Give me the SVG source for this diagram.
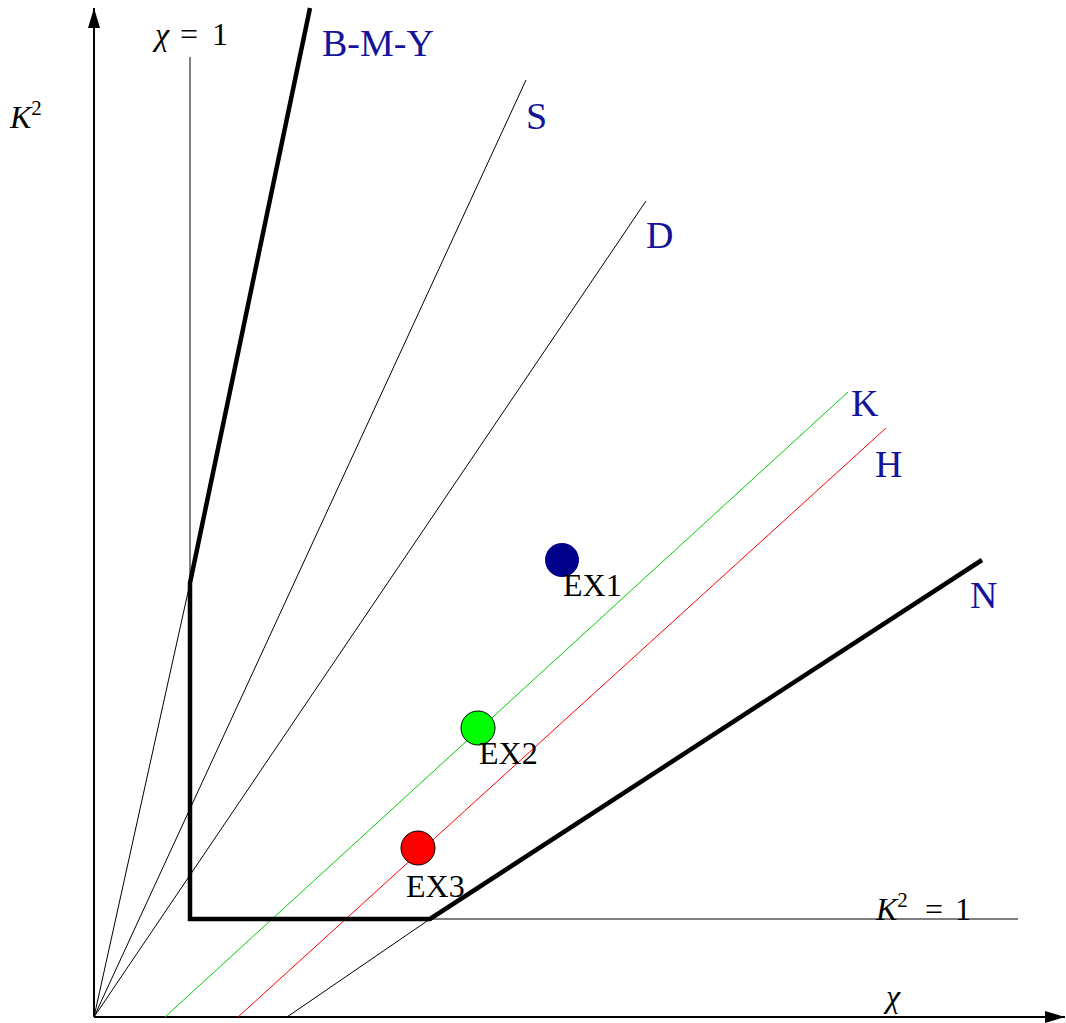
<svg xmlns="http://www.w3.org/2000/svg" width="1066" height="1023" viewBox="0 0 1066 1023">
<style>
.thin{stroke:#000;stroke-width:1;fill:none}
.thick{stroke:#000;stroke-width:4.5;fill:none;stroke-linejoin:miter}
.axis{stroke:#000;stroke-width:2;fill:none}
.lbl{font-family:"Liberation Serif","DejaVu Serif",serif;font-size:38px;fill:#14149a}
.ex{font-family:"Liberation Serif","DejaVu Serif",serif;font-size:32px;fill:#000}
.math{font-family:"Liberation Serif","DejaVu Serif",serif;font-size:32px;fill:#000}
.it{font-style:italic}
</style>
<defs>
<marker id="arr" viewBox="0 0 20 12" refX="20" refY="6" markerWidth="20" markerHeight="12" markerUnits="userSpaceOnUse" orient="auto">
<path d="M0,0 L20,6 L0,12 Z" fill="#000"/>
</marker>
</defs>
<rect width="1066" height="1023" fill="#fff"/>
<g id="connectors">
<line class="axis" x1="94" y1="1017" x2="94" y2="8" marker-end="url(#arr)"/>
<line class="axis" x1="94" y1="1017" x2="1065" y2="1017" marker-end="url(#arr)"/>
<line class="thin" x1="190" y1="57" x2="190" y2="919"/>
<line class="thin" x1="190" y1="919" x2="1018" y2="919"/>
<line class="thin" x1="94" y1="1017" x2="190" y2="583"/>
<line class="thin" x1="94" y1="1017" x2="526" y2="80"/>
<line class="thin" x1="94" y1="1017" x2="646" y2="201"/>
<line class="thin" x1="287" y1="1017" x2="430" y2="919"/>
<line x1="165" y1="1017" x2="848" y2="392" stroke="#00cc00" stroke-width="1"/>
<line x1="238" y1="1017" x2="886" y2="428" stroke="#ff0000" stroke-width="1"/>
<polyline class="thick" points="310,8 190,583 190,919 430,919 982,560"/>
</g>
<g id="labels">
<text class="lbl" x="322" y="56">B-M-Y</text>
<text class="lbl" x="526" y="129">S</text>
<text class="lbl" x="646" y="248">D</text>
<text class="lbl" x="851" y="416">K</text>
<text class="lbl" x="875" y="477">H</text>
<text class="lbl" x="970" y="608">N</text>
<text class="math" x="10" y="128"><tspan class="it">K</tspan><tspan font-size="21" dy="-13">2</tspan></text>
<text class="math" x="155" y="45"><tspan class="it">χ</tspan><tspan x="180">=</tspan><tspan x="212">1</tspan></text>
<text class="math" x="876" y="920"><tspan class="it">K</tspan><tspan font-size="21" dy="-13">2</tspan><tspan x="925" dy="13">=</tspan><tspan x="955">1</tspan></text>
<text class="math" x="886" y="1007"><tspan class="it">χ</tspan></text>
</g>
<g id="EX1">
<circle cx="562" cy="560" r="17" fill="#00008b"/>
<text class="ex" x="563" y="596">EX1</text>
</g>
<g id="EX2">
<circle cx="478" cy="728" r="17" fill="#00ff00" stroke="#000" stroke-width="1"/>
<text class="ex" x="479" y="764">EX2</text>
</g>
<g id="EX3">
<circle cx="418" cy="848" r="17" fill="#ff0000" stroke="#000" stroke-width="1"/>
<text class="ex" x="406" y="897">EX3</text>
</g>
</svg>
